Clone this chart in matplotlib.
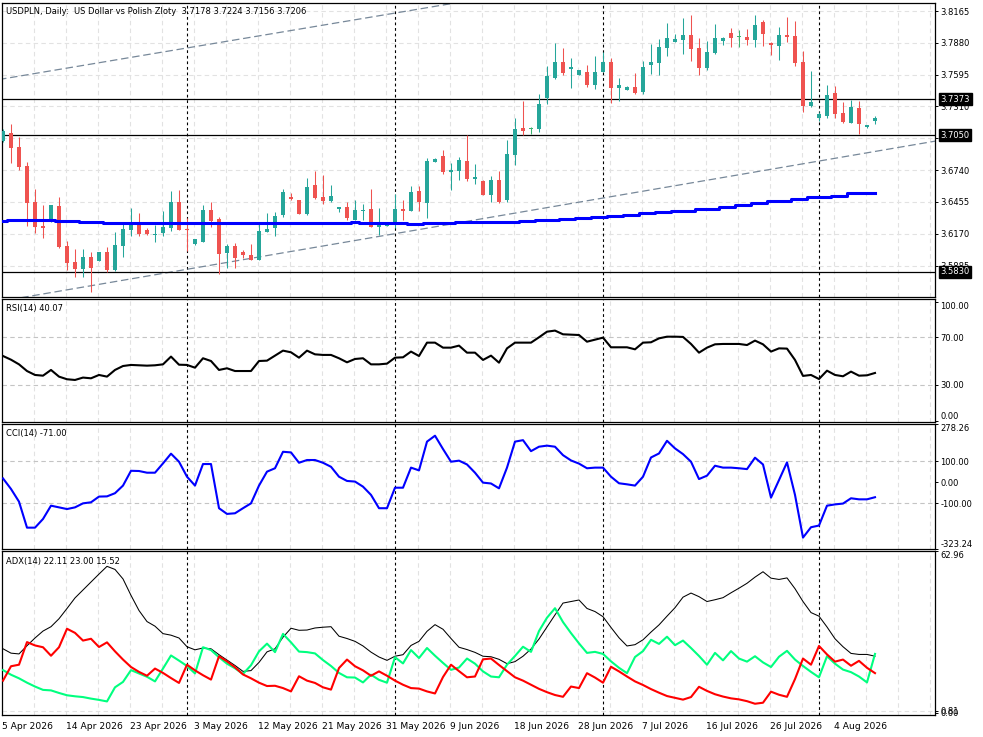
import numpy as np
import matplotlib
matplotlib.use("Agg")
import matplotlib.pyplot as plt
import matplotlib.transforms as mtransforms

plt.rcParams['font.family'] = ['DejaVu Sans']

title = "USDPLN, Daily:  US Dollar vs Polish Zloty  3.7178 3.7224 3.7156 3.7206"
rsi_title = "RSI(14) 40.07"
cci_title = "CCI(14) -71.00"
adx_title = "ADX(14) 22.11 23.00 15.52"

# daily bars (Sun-Fri), 5 Apr 2026 .. 10 Aug 2026
opens = [3.7003, 3.7072, 3.6947, 3.6777, 3.6454, 3.6239, 3.6278, 3.6418, 3.6060, 3.5916,
         3.5856, 3.5961, 3.5928, 3.6002, 3.5849, 3.6063, 3.6203, 3.6269, 3.6203, 3.6158,
         3.6174, 3.6224, 3.6454, 3.6212, 3.6078, 3.6093, 3.6385, 3.6302, 3.6000, 3.6060,
         3.6002, 3.5983, 3.5937, 3.6188, 3.6221, 3.6338, 3.6499, 3.6472, 3.6347, 3.6606,
         3.6499, 3.6463, 3.6392, 3.6409, 3.6292, 3.6373, 3.6391, 3.6230, 3.6239, 3.6266,
         3.6391, 3.6373, 3.6553, 3.6445, 3.6812, 3.6866, 3.6723, 3.6732, 3.6821, 3.6660,
         3.6642, 3.6517, 3.6651, 3.6472, 3.6875, 3.7117, 3.7108, 3.7108, 3.7386, 3.7565,
         3.7708, 3.7646, 3.7592, 3.7619, 3.7502, 3.7619, 3.7708, 3.7476, 3.7458, 3.7485,
         3.7440, 3.7682, 3.7700, 3.7834, 3.7888, 3.7906, 3.7950, 3.7834, 3.7655, 3.7789,
         3.7897, 3.7968, 3.7929, 3.7932, 3.7906, 3.8067, 3.7879, 3.7852, 3.7950, 3.7941,
         3.7709, 3.7314, 3.7207, 3.7225, 3.7431, 3.7252, 3.7162, 3.7296, 3.7126, 3.7178]
highs = [3.7108, 3.7153, 3.7039, 3.6810, 3.6571, 3.6425, 3.6430, 3.6496, 3.6104, 3.6030,
         3.6030, 3.6006, 3.6009, 3.6055, 3.6185, 3.6269, 3.6400, 3.6356, 3.6221, 3.6251,
         3.6376, 3.6553, 3.6562, 3.6308, 3.6123, 3.6431, 3.6457, 3.6317, 3.6078, 3.6084,
         3.6020, 3.6078, 3.6257, 3.6356, 3.6365, 3.6571, 3.6535, 3.6472, 3.6666, 3.6731,
         3.6696, 3.6606, 3.6409, 3.6457, 3.6472, 3.6436, 3.6571, 3.6400, 3.6266, 3.6525,
         3.6472, 3.6597, 3.6597, 3.6848, 3.6848, 3.6920, 3.6801, 3.6857, 3.7051, 3.6794,
         3.6649, 3.6687, 3.6732, 3.7010, 3.7207, 3.7359, 3.7126, 3.7422, 3.7673, 3.7879,
         3.7834, 3.7744, 3.7637, 3.7681, 3.7762, 3.7798, 3.7744, 3.7565, 3.7493, 3.7610,
         3.7717, 3.7870, 3.7915, 3.8058, 3.7959, 3.8103, 3.8129, 3.7924, 3.7897, 3.8049,
         3.7932, 3.8013, 3.7995, 3.8004, 3.8129, 3.8085, 3.7888, 3.8022, 3.8111, 3.8076,
         3.7807, 3.7628, 3.7260, 3.7502, 3.7493, 3.7350, 3.7368, 3.7359, 3.7144, 3.7224]
lows = [3.6992, 3.6806, 3.6741, 3.6239, 3.6174, 3.6129, 3.6278, 3.6042, 3.5845, 3.5785,
        3.5785, 3.5650, 3.5923, 3.5831, 3.5840, 3.5964, 3.6149, 3.6152, 3.6158, 3.6098,
        3.6152, 3.6192, 3.6207, 3.6018, 3.6069, 3.6093, 3.6233, 3.5812, 3.5860, 3.5860,
        3.5955, 3.5932, 3.5932, 3.6188, 3.6152, 3.6322, 3.6475, 3.6347, 3.6340, 3.6484,
        3.6436, 3.6457, 3.6364, 3.6292, 3.6292, 3.6292, 3.6230, 3.6159, 3.6239, 3.6221,
        3.6292, 3.6373, 3.6373, 3.6310, 3.6812, 3.6705, 3.6561, 3.6649, 3.6645, 3.6615,
        3.6517, 3.6454, 3.6448, 3.6454, 3.6786, 3.7055, 3.7066, 3.7081, 3.7332, 3.7556,
        3.7592, 3.7476, 3.7592, 3.7485, 3.7467, 3.7619, 3.7341, 3.7359, 3.7458, 3.7422,
        3.7422, 3.7601, 3.7592, 3.7762, 3.7888, 3.7780, 3.7718, 3.7592, 3.7637, 3.7780,
        3.7861, 3.7843, 3.7843, 3.7861, 3.7843, 3.7852, 3.7771, 3.7727, 3.7888, 3.7673,
        3.7260, 3.7305, 3.7180, 3.7207, 3.7207, 3.7162, 3.7162, 3.7064, 3.7117, 3.7156]
closes = [3.7090, 3.6938, 3.6770, 3.6448, 3.6233, 3.6221, 3.6425, 3.6054, 3.5910, 3.5856,
          3.5961, 3.5865, 3.6002, 3.5849, 3.6069, 3.6216, 3.6257, 3.6170, 3.6170, 3.6164,
          3.6230, 3.6454, 3.6207, 3.6207, 3.6123, 3.6385, 3.6287, 3.5991, 3.6060, 3.5955,
          3.5977, 3.5937, 3.6194, 3.6215, 3.6329, 3.6544, 3.6481, 3.6347, 3.6588, 3.6490,
          3.6463, 3.6508, 3.6409, 3.6310, 3.6382, 3.6382, 3.6230, 3.6257, 3.6257, 3.6391,
          3.6373, 3.6544, 3.6454, 3.6821, 3.6839, 3.6720, 3.6741, 3.6830, 3.6660, 3.6678,
          3.6517, 3.6651, 3.6454, 3.6884, 3.7108, 3.7090, 3.7108, 3.7332, 3.7583, 3.7708,
          3.7610, 3.7664, 3.7637, 3.7502, 3.7619, 3.7708, 3.7476, 3.7502, 3.7485, 3.7431,
          3.7664, 3.7708, 3.7843, 3.7923, 3.7915, 3.7950, 3.7825, 3.7655, 3.7798, 3.7923,
          3.7923, 3.7923, 3.7929, 3.7906, 3.8040, 3.7959, 3.7861, 3.7950, 3.7932, 3.7700,
          3.7314, 3.7350, 3.7243, 3.7413, 3.7243, 3.7171, 3.7305, 3.7153, 3.7144, 3.7206]
ma = [3.6287, 3.6296, 3.6296, 3.6296, 3.6296, 3.6296, 3.6296, 3.6287, 3.6287, 3.6287,
      3.6278, 3.6278, 3.6278, 3.6269, 3.6269, 3.6269, 3.6269, 3.6269, 3.6269, 3.6269,
      3.6269, 3.6269, 3.6269, 3.6269, 3.6269, 3.6269, 3.6269, 3.6269, 3.6269, 3.6269,
      3.6269, 3.6269, 3.6269, 3.6269, 3.6269, 3.6269, 3.6269, 3.6269, 3.6269, 3.6269,
      3.6269, 3.6269, 3.6269, 3.6269, 3.6278, 3.6269, 3.6269, 3.6269, 3.6269, 3.6269,
      3.6269, 3.6260, 3.6260, 3.6269, 3.6269, 3.6269, 3.6269, 3.6278, 3.6278, 3.6278,
      3.6278, 3.6278, 3.6278, 3.6278, 3.6278, 3.6287, 3.6287, 3.6296, 3.6296, 3.6296,
      3.6305, 3.6305, 3.6314, 3.6314, 3.6323, 3.6323, 3.6332, 3.6332, 3.6341, 3.6341,
      3.6356, 3.6356, 3.6368, 3.6368, 3.6377, 3.6377, 3.6377, 3.6395, 3.6395, 3.6395,
      3.6410, 3.6410, 3.6428, 3.6428, 3.6446, 3.6446, 3.6464, 3.6464, 3.6464, 3.6481,
      3.6481, 3.6499, 3.6499, 3.6499, 3.6512, 3.6512, 3.6535, 3.6535, 3.6535, 3.6535]
rsi = [54.3, 51.2, 47.3, 41.7, 38.4, 37.8, 42.6, 37.0, 34.8, 34.2,
       36.2, 35.6, 38.4, 37.0, 42.6, 45.9, 46.8, 46.5, 46.2, 46.5,
       47.3, 53.8, 47.0, 46.8, 44.5, 52.4, 50.1, 42.6, 44.0, 41.7,
       41.7, 41.7, 50.1, 50.4, 54.6, 58.8, 57.4, 52.9, 58.8, 55.7,
       55.2, 55.2, 52.4, 49.0, 51.8, 52.4, 47.3, 47.3, 47.9, 52.9,
       53.2, 58.0, 54.3, 65.5, 65.5, 61.3, 61.3, 63.0, 57.1, 57.1,
       51.0, 54.6, 48.7, 60.7, 65.5, 65.5, 65.5, 70.0, 74.7, 75.6,
       72.5, 72.2, 71.9, 66.3, 68.0, 69.7, 61.6, 61.6, 61.6, 59.9,
       65.5, 65.8, 69.1, 70.5, 70.5, 70.3, 64.4, 57.1, 61.3, 64.1,
       64.4, 64.4, 64.4, 63.5, 67.2, 64.1, 58.0, 60.7, 60.5, 51.0,
       37.6, 38.4, 35.0, 42.0, 38.4, 37.3, 41.2, 37.8, 38.1, 40.07]
cci = [18, -32, -92, -215, -215, -174, -111, -119, -127, -119,
       -100, -95, -68, -67, -52, -16, 54, 53, 45, 45,
       89, 135, 97, 26, -16, 86, 86, -123, -150, -147,
       -123, -100, -16, 50, 66, 144, 141, 92, 105, 105,
       92, 73, 26, 6, 3, -21, -60, -123, -123, -26,
       -26, 69, 56, 192, 220, 157, 97, 102, 84, 45,
       -2, -6, -29, 69, 192, 199, 147, 168, 173, 168,
       128, 103, 88, 66, 69, 69, 26, -5, -10, -16,
       26, 117, 136, 196, 160, 133, 97, 15, 31, 78,
       69, 69, 66, 62, 116, 84, -73, 10, 94, -60,
       -262, -213, -205, -111, -105, -101, -76, -81, -81, -71]
adx = [25.0, 23.3, 23.0, 26.2, 29.2, 31.9, 33.6, 36.7, 40.7, 44.8,
       47.9, 51.0, 54.1, 57.1, 55.9, 52.2, 45.8, 39.9, 35.6, 33.8,
       30.9, 30.3, 29.2, 25.8, 24.6, 25.3, 25.0, 22.7, 20.6, 18.5,
       16.2, 16.5, 19.7, 23.8, 25.0, 29.5, 33.0, 32.2, 32.3, 33.1,
       33.4, 33.6, 29.9, 29.0, 27.9, 26.1, 23.7, 21.8, 20.5, 22.1,
       22.7, 26.3, 27.9, 31.8, 34.4, 32.6, 29.0, 25.6, 24.7, 23.6,
       22.1, 21.9, 20.9, 19.2, 20.0, 22.1, 24.9, 28.8, 33.5, 38.2,
       42.8, 43.4, 44.0, 40.7, 39.5, 37.5, 33.3, 29.3, 26.1, 26.6,
       28.5, 31.5, 34.3, 37.7, 41.0, 45.1, 46.7, 45.3, 43.4, 44.1,
       44.9, 46.8, 48.6, 50.5, 52.9, 55.0, 52.5, 52.0, 52.6, 48.4,
       43.4, 39.1, 37.7, 33.5, 28.9, 25.8, 23.2, 22.8, 22.8, 22.11]
plus_di = [16.7, 14.9, 13.5, 11.8, 10.3, 9.0, 8.8, 7.8, 6.9, 6.5,
           6.2, 5.6, 5.1, 4.5, 10.0, 12.1, 16.7, 15.4, 14.1, 12.3,
           17.3, 22.4, 20.4, 18.3, 15.4, 25.6, 24.5, 21.7, 19.2, 17.4,
           15.2, 18.6, 24.0, 27.0, 23.7, 30.8, 27.5, 23.9, 23.7, 23.2,
           20.6, 18.3, 15.6, 13.9, 13.8, 11.9, 14.9, 12.9, 11.8, 21.7,
           19.3, 24.5, 21.4, 25.3, 22.3, 19.5, 16.8, 17.7, 21.2, 19.2,
           16.2, 14.2, 13.9, 18.8, 22.2, 25.8, 23.8, 31.9, 37.1, 40.8,
           35.4, 31.1, 27.1, 23.4, 23.8, 23.0, 20.1, 17.6, 15.5, 21.8,
           24.1, 28.5, 26.9, 29.7, 26.4, 28.2, 25.3, 22.2, 18.8, 23.4,
           20.5, 24.1, 21.2, 20.0, 22.1, 19.7, 17.9, 21.9, 24.2, 20.8,
           18.3, 16.0, 13.9, 22.1, 19.2, 16.9, 15.9, 14.2, 11.9, 23.00]
minus_di = [12.6, 18.2, 18.8, 27.6, 26.3, 25.6, 22.3, 25.6, 32.8, 31.2,
            28.2, 28.9, 25.7, 27.5, 24.0, 20.8, 17.9, 16.0, 14.5, 17.3,
            15.6, 13.6, 11.7, 18.8, 16.6, 14.7, 13.0, 22.1, 20.1, 17.8,
            15.0, 13.5, 11.8, 10.5, 10.6, 9.7, 8.4, 14.3, 12.6, 11.7,
            10.0, 9.1, 17.5, 20.8, 18.2, 16.6, 14.5, 16.2, 14.5, 12.6,
            11.0, 9.7, 9.5, 8.4, 7.6, 14.0, 18.8, 16.3, 13.9, 14.2,
            20.9, 21.2, 18.7, 16.3, 13.9, 12.6, 11.0, 9.4, 8.1, 7.0,
            6.3, 10.3, 9.7, 15.5, 13.8, 11.8, 18.0, 16.2, 14.2, 12.3,
            10.9, 9.3, 7.9, 6.6, 5.9, 5.2, 6.2, 10.2, 8.6, 7.3,
            6.4, 5.7, 5.3, 4.6, 3.6, 4.0, 8.3, 7.1, 6.3, 13.2,
            21.2, 18.8, 26.1, 22.8, 20.0, 20.8, 18.4, 20.3, 17.6, 15.52]

date_labels = ["5 Apr 2026", "14 Apr 2026", "23 Apr 2026", "3 May 2026", "12 May 2026",
               "21 May 2026", "31 May 2026", "9 Jun 2026", "18 Jun 2026", "28 Jun 2026",
               "7 Jul 2026", "16 Jul 2026", "26 Jul 2026", "4 Aug 2026"]
separator_bars = [23, 49, 75, 102]   # first bar of May, Jun, Jul, Aug

price_ticks = [3.8165, 3.7880, 3.7595, 3.7310, 3.7025, 3.6740, 3.6455, 3.6170, 3.5885]
level_lines = [3.7373, 3.7050, 3.5830]
upper_trend = [(-0.125, 3.7556), (56.5, 3.8237)]
lower_trend = [(3.1, 3.5607), (116.25, 3.6996)]

W, H = 983, 737
FS = 6.0
FS_DATE = 6.6
GRID = '#e2e2e2'
fig = plt.figure(figsize=(W / 100, H / 100), dpi=100)


def panel(top, bottom):
    return fig.add_axes([2 / W, 1 - bottom / H, 933 / W, (bottom - top) / H])


def style(ax, ylim):
    ax.set_xlim(-0.125, 116.5)
    ax.set_ylim(*ylim)
    ax.yaxis.tick_right()
    ax.tick_params(axis='x', length=0, labelbottom=False)
    ax.tick_params(axis='y', direction='out', length=2.2, width=0.7, pad=1.8, labelsize=FS)
    for s in ax.spines.values():
        s.set_linewidth(0.9)
        s.set_color('black')
    for b in range(4, 117, 4):
        ax.axvline(b - 0.15, color=GRID, lw=0.8, ls=(0, (4, 3)), zorder=0)
    for b in separator_bars:
        ax.axvline(b, color='black', lw=0.8, ls=(0, (2.5, 2.5)), zorder=1)


def header(ax, text, dy):
    ax.annotate(text, xy=(0, 1), xycoords='axes fraction', xytext=(4, -dy),
                textcoords='offset pixels', va='center', ha='left', fontsize=FS)


def edge_labels(ax):
    labels = ax.get_yticklabels()
    labels[0].set_verticalalignment('top')
    labels[-1].set_verticalalignment('bottom')


ax_p = panel(3, 297)
ax_r = panel(299, 421.7)
ax_c = panel(424.3, 549)
ax_a = panel(551.3, 715.3)

# ---- price panel
style(ax_p, (3.5603, 3.8237))
for p in price_ticks:
    ax_p.axhline(p, color=GRID, lw=0.8, ls=(0, (4, 3)), zorder=0)
ax_p.set_yticks(price_ticks)
ax_p.set_yticklabels([f"{p:.4f}" for p in price_ticks])

for (x0, y0), (x1, y1) in (upper_trend, lower_trend):
    k = (y1 - y0) / (x1 - x0)
    xs = np.array([-1.0, 117.0])
    ax_p.plot(xs, y0 + k * (xs - x0), color='#778899', lw=0.9, ls=(0, (6, 3)), zorder=2)

for v in level_lines:
    ax_p.axhline(v, color='black', lw=0.9, zorder=2)

o, h, l, c = map(np.array, (opens, highs, lows, closes))
x = np.arange(len(o))
cols = np.where(c > o, '#26a69a', np.where(c < o, '#ef5350', '#3cb371'))
ax_p.vlines(x, l, h, colors=cols, lw=0.75, zorder=3)
ax_p.bar(x, np.maximum(np.abs(c - o), 0.0009), bottom=np.minimum(o, c), width=0.62,
         color=cols, lw=0, zorder=4)
ax_p.plot(x, ma, color='#0000ff', lw=2.2, drawstyle='steps-mid', zorder=5)

trans = mtransforms.blended_transform_factory(ax_p.transAxes, ax_p.transData)
for v in level_lines:
    ax_p.text(1.006, v, f"{v:.4f}", transform=trans, color='white', va='center', ha='left',
              fontsize=FS, zorder=20, clip_on=False,
              bbox=dict(facecolor='black', edgecolor='black', pad=1.1))
header(ax_p, title, 8)

# ---- RSI
style(ax_r, (-0.8, 102.1))
for v in (70, 30):
    ax_r.axhline(v, color='#c4c4c4', lw=0.8, ls=(0, (4, 3)), zorder=0)
ax_r.plot(x, rsi, color='black', lw=1.5, zorder=3)
ax_r.set_yticks([100, 70, 30, 0])
ax_r.set_yticklabels(["100.00", "70.00", "30.00", "0.00"])
edge_labels(ax_r)
header(ax_r, rsi_title, 10)

# ---- CCI
style(ax_c, (-316, 274))
for v in (100, -100):
    ax_c.axhline(v, color='#c4c4c4', lw=0.8, ls=(0, (4, 3)), zorder=0)
ax_c.plot(x, cci, color='#0000ff', lw=1.5, zorder=3)
ax_c.set_yticks([274, 100, 0, -100, -316])
ax_c.set_yticklabels(["278.26", "100.00", "0.00", "-100.00", "-323.24"])
edge_labels(ax_c)
header(ax_c, cci_title, 9)

# ---- ADX
style(ax_a, (-0.9, 62.96))
ax_a.axhline(0.81, color=GRID, lw=0.8, ls=(0, (4, 3)), zorder=0)
ax_a.plot(x, adx, color='black', lw=0.75, zorder=3)
ax_a.plot(x, plus_di, color='#00ff7f', lw=1.5, zorder=4)
ax_a.plot(x, minus_di, color='#ff0000', lw=1.5, zorder=5)
ax_a.set_yticks([62.96, 0.81, 0.0])
ax_a.set_yticklabels(["62.96", "0.81", "0.00"])
ax_a.get_yticklabels()[0].set_verticalalignment('top')
header(ax_a, adx_title, 10)

for i, lab in enumerate(date_labels):
    ax_a.annotate(lab, xy=(i * 8 - 0.1, 0), xycoords=('data', 'axes fraction'),
                  xytext=(0, -11), textcoords='offset pixels', ha='left', va='center',
                  fontsize=FS_DATE, annotation_clip=False)

fig.savefig("out.png", dpi=100)
